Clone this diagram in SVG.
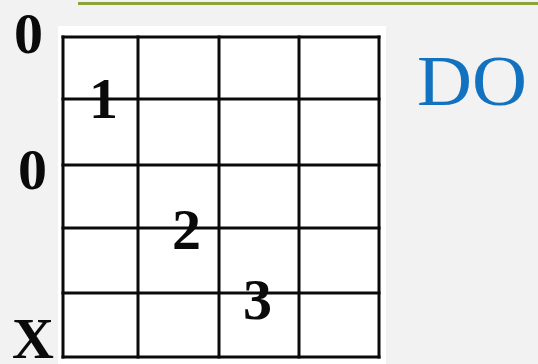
<svg xmlns="http://www.w3.org/2000/svg" width="538" height="364" viewBox="0 0 538 364">
<style>
.bg{fill:#f2f2f2}
.grid line{stroke:#0a0a0a;stroke-width:3;stroke-linecap:square}
.lbl{font-family:"Liberation Serif","Times New Roman",serif;font-weight:bold;font-size:58px;fill:#0a0a0a}
.do{font-family:"Liberation Serif","Times New Roman",serif;font-size:72px;fill:#1272c0}
</style>
<rect class="bg" x="0" y="0" width="538" height="364"/>
<line x1="78" y1="3.5" x2="538" y2="3.5" stroke="#8ba33a" stroke-width="3"/>
<rect x="58" y="26" width="328" height="338" fill="#ffffff"/>
<g id="grid" class="grid">
<line x1="63" y1="37" x2="379" y2="37"/>
<line x1="63" y1="99" x2="379" y2="99"/>
<line x1="63" y1="165" x2="379" y2="165"/>
<line x1="63" y1="228" x2="379" y2="228"/>
<line x1="63" y1="293" x2="379" y2="293"/>
<line x1="63" y1="357" x2="379" y2="357"/>
<line x1="63" y1="37" x2="63" y2="357"/>
<line x1="138" y1="37" x2="138" y2="357"/>
<line x1="219" y1="37" x2="219" y2="357"/>
<line x1="299" y1="37" x2="299" y2="357"/>
<line x1="379" y1="37" x2="379" y2="357"/>
</g>
<g id="labels">
<text class="lbl" x="14" y="53">0</text>
<text class="lbl" x="18" y="189">0</text>
<text class="lbl" x="12" y="358">X</text>
<text class="lbl" x="89" y="118">1</text>
<text class="lbl" x="172" y="249">2</text>
<text class="lbl" x="243" y="319">3</text>
</g>
<text class="do" x="417" y="105" textLength="110" lengthAdjust="spacingAndGlyphs">DO</text>
</svg>
